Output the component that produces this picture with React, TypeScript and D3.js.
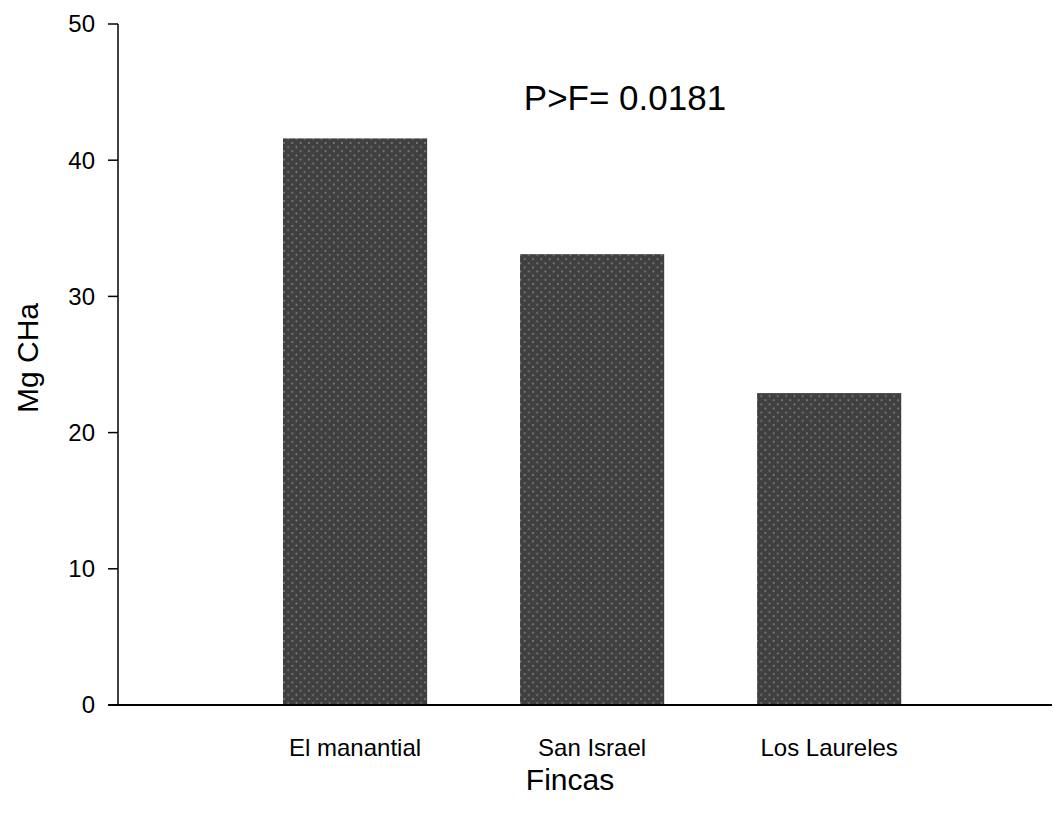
import React from "react";
import * as d3 from "d3";

const categories = ["El manantial", "San Israel", "Los Laureles"];
const values = [41.6, 33.1, 22.9];
const yTicks = [0, 10, 20, 30, 40, 50];
const annotation = "P>F= 0.0181";
const xLabel = "Fincas";
const yLabel = "Mg CHa";

export default function App() {
  const W = 1054, H = 815;
  const left = 118, right = 1052, bottom = 705, top = 24;
  const y = d3.scaleLinear().domain([0, 50]).range([bottom, top]);
  const x = d3.scaleLinear().domain([0, 3.94]).range([left, right]);
  const barW = x(0.608) - x(0);
  const font = "Liberation Sans, Arial, sans-serif";
  return (
    <svg width={W} height={H} style={{ position: "absolute", left: 0, top: 0, background: "#fff" }}>
      <defs>
        <pattern id="dots" width={8.3} height={8.3} patternUnits="userSpaceOnUse">
          <rect width={8.3} height={8.3} fill="#404040" />
          <rect x={1} y={1} width={1.6} height={1.6} fill="#8a8a8a" />
          <rect x={5.15} y={5.15} width={1.6} height={1.6} fill="#8a8a8a" />
        </pattern>
      </defs>
      {values.map((v, i) => (
        <rect key={i} x={x(i + 1) - barW / 2} y={y(v)} width={barW} height={y(0) - y(v)} fill="url(#dots)" />
      ))}
      <line x1={left} x2={left} y1={y(50)} y2={y(0)} stroke="#000" strokeWidth={1.5} />
      <line x1={left - 10} x2={right} y1={y(0)} y2={y(0)} stroke="#000" strokeWidth={2} />
      {yTicks.map((t) => (
        <g key={t}>
          <line x1={left - 10} x2={left} y1={y(t)} y2={y(t)} stroke="#000" strokeWidth={1.5} />
          <text x={95} y={y(t)} dy="0.35em" textAnchor="end" fontFamily={font} fontSize={24}>{t}</text>
        </g>
      ))}
      {categories.map((c, i) => (
        <text key={c} x={x(i + 1)} y={756} textAnchor="middle" fontFamily={font} fontSize={24}>{c}</text>
      ))}
      <text x={570} y={790} textAnchor="middle" fontFamily={font} fontSize={30}>{xLabel}</text>
      <text transform={`translate(38,358) rotate(-90)`} textAnchor="middle" fontFamily={font} fontSize={30}>{yLabel}</text>
      <text x={625} y={110} textAnchor="middle" fontFamily={font} fontSize={35}>{annotation}</text>
    </svg>
  );
}
